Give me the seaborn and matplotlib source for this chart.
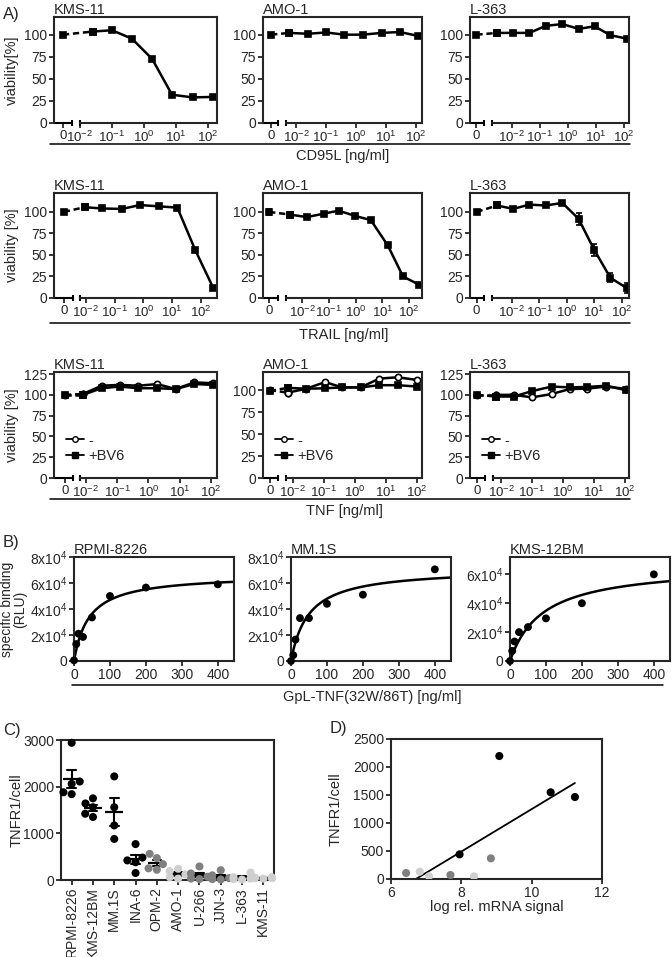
import numpy as np
import pandas as pd
import matplotlib.pyplot as plt
import seaborn as sns
from matplotlib.lines import Line2D

sns.set_style('ticks')
plt.rcParams['font.family'] = ['Liberation Sans', 'DejaVu Sans']
plt.rcParams['mathtext.default'] = 'regular'
plt.rcParams['axes.linewidth'] = 1.5

# --- A) viability data (concentration ng/ml, viability %) ---
cd95l_kms11_conc = [0, 0.025, 0.1, 0.42, 1.8, 7.5, 33, 145]
cd95l_kms11_via = [100, 103.5, 105, 95.5, 72.5, 32, 29, 29.5]
cd95l_amo1_conc = [0, 0.006, 0.025, 0.1, 0.41, 1.7, 7.1, 29, 120]
cd95l_amo1_via = [100, 102, 101, 102.5, 100, 100, 102, 103, 98.5]
cd95l_l363_conc = [0, 0.003, 0.011, 0.042, 0.16, 0.63, 2.4, 8.9, 32, 126]
cd95l_l363_via = [100, 102, 102, 102, 110, 112, 106.5, 109.5, 99.5, 95.5]

trail_kms11_conc = [0, 0.0091, 0.038, 0.18, 0.76, 3.4, 15, 62, 260]
trail_kms11_via = [100, 105.5, 104, 103.5, 108, 106.5, 105, 56, 12]
trail_amo1_conc = [0, 0.0034, 0.015, 0.065, 0.23, 0.93, 3.7, 16, 59, 234]
trail_amo1_via = [100, 97, 94, 98, 101.5, 95.5, 90.5, 61, 25, 15.5]
trail_amo1_err = [3, 3, 2, 2, 2, 2, 2, 2, 2, 2]
trail_l363_conc = [0, 0.0029, 0.011, 0.043, 0.17, 0.69, 2.7, 10, 39, 155]
trail_l363_via = [100, 107.5, 103.5, 108.5, 107.5, 110.5, 92, 56, 23.5, 11.5]
trail_l363_err = [2, 2, 2, 2, 2, 2, 7, 7, 5, 6]

tnf_kms11_conc = [0, 0.0079, 0.032, 0.12, 0.47, 1.9, 7.4, 29, 115]
tnf_kms11_ctrl = [100, 101, 111, 112, 111, 113, 107, 115, 114]
tnf_kms11_bv6 = [100, 100, 108, 110, 108, 108, 107, 113, 112]
tnf_amo1_conc = [0, 0.0069, 0.027, 0.11, 0.4, 1.55, 6.2, 24, 100]
tnf_amo1_ctrl = [100, 97, 101.5, 109, 103, 103, 113, 114.5, 111.5]
tnf_amo1_bv6 = [99, 102.5, 101.5, 102, 103, 103, 105.5, 105.5, 104]
tnf_l363_conc = [0, 0.0069, 0.026, 0.1, 0.43, 1.66, 6.0, 25, 112]
tnf_l363_ctrl = [100, 100, 100, 97, 101, 107, 107.5, 110, 107]
tnf_l363_bv6 = [100, 98, 98, 104.5, 110, 109, 109.5, 111, 105.5]

# --- B) binding data ---
binding_conc = [0, 6.25, 12.5, 25, 50, 100, 200, 400]
rpmi_rlu = [500, 13000, 21000, 18500, 33500, 50000, 56500, 59000]
mm1s_rlu = [0, 4500, 16500, 33000, 33000, 44000, 51000, 70500]
kms12bm_rlu = [0, 7000, 13500, 20000, 23500, 29500, 40000, 60000]

# --- C) TNFR1 per cell ---
cell_lines = ['RPMI-8226', 'KMS-12BM', 'MM.1S', 'INA-6', 'OPM-2',
              'AMO-1', 'U-266', 'JJN-3', 'L-363', 'KMS-11']
tnfr1_values = [
    [2940, 2110, 2060, 1880, 1840],
    [1750, 1640, 1560, 1420, 1350],
    [2220, 1560, 1170, 880],
    [770, 480, 420, 380, 150],
    [560, 470, 340, 250, 220],
    [240, 190, 120, 60, 30],
    [290, 140, 70, 30, 20],
    [210, 100, 40, 20, 10],
    [160, 60, 30, 20, 10],
    [60, 50, 40, 40, 30],
]
expression_group = ['high', 'high', 'high', 'high', 'mid',
                    'low', 'mid', 'mid', 'low', 'low']
group_colors = {'high': 'black', 'mid': '#808080', 'low': '#cfcfcf'}

# --- D) mRNA vs TNFR1 ---
mrna_signal = [9.08, 10.54, 11.23, 7.95, 8.84, 6.82, 6.43, 7.69, 7.08, 8.36]
d_tnfr1 = [2196, 1548, 1464, 440, 369, 131, 107, 71, 48, 48]

W, H = 672, 957
fig = plt.figure(figsize=(W / 100, H / 100), dpi=100)


def box(x0, x1, y0, y1):
    return fig.add_axes([x0 / W, 1 - y1 / H, (x1 - x0) / W, (y1 - y0) / H])


def style(ax, size=10):
    ax.tick_params(direction='out', length=3.5, width=1.3, labelsize=size, pad=1.5)
    for s in ax.spines.values():
        s.set_linewidth(1.5)


dec_labels = ['$10^{-2}$', '$10^{-1}$', '$10^{0}$', '$10^{1}$', '$10^{2}$']


def dose_pos(conc, zero):
    c = np.asarray(conc, float)
    return np.where(c > 0, np.log10(np.where(c > 0, c, 1.0)), zero)


def dose_axis(ax, lay, ymax, yticks):
    left, zero, seg1, seg2, right = lay
    ax.set_xlim(left, right)
    ax.set_ylim(0, ymax)
    ax.set_xticks([zero, -2, -1, 0, 1, 2])
    ax.set_xticklabels(['0'] + dec_labels)
    ax.set_yticks(yticks)
    ax.spines['bottom'].set_bounds(seg2, right)
    ax.plot([left, seg1], [0, 0], color='black', lw=1.5, clip_on=False,
            solid_capstyle='butt')
    ax.plot([seg1, seg2], [0, 0], ls='none', marker='|', ms=5, mew=1.5,
            color='black', clip_on=False)
    style(ax)
    ax.tick_params(axis='x', labelsize=9.5)


def dose_curve(ax, conc, via, zero, marker='s', mfc='black', ms=5, err=None):
    x = dose_pos(conc, zero)
    y = np.asarray(via, float)
    if err is not None:
        ax.errorbar(x, y, yerr=err, fmt='none', ecolor='black', elinewidth=1.2,
                    capsize=2.5, capthick=1.2)
    kw = dict(color='black', marker=marker, markersize=ms, markerfacecolor=mfc,
              markeredgecolor='black', markeredgewidth=1.2, linewidth=1.8)
    sns.lineplot(x=x[1:], y=y[1:], ax=ax, sort=False, **kw)
    sns.lineplot(x=x[:2], y=y[:2], ax=ax, sort=False, linestyle=(0, (2.5, 1.5)), **kw)


cols = [(54, 217), (263, 422), (470, 629)]
titles = ['KMS-11', 'AMO-1', 'L-363']
ticks100 = [0, 25, 50, 75, 100]
ticks125 = [0, 25, 50, 75, 100, 125]

# row 1: CD95L
row1 = [(cd95l_kms11_conc, cd95l_kms11_via, (-2.81, -2.53, -2.24, -2.0, 2.28)),
        (cd95l_amo1_conc, cd95l_amo1_via, (-3.1, -2.83, -2.6, -2.33, 2.2)),
        (cd95l_l363_conc, cd95l_l363_via, (-3.5, -3.27, -3.0, -2.71, 2.18))]
for i, (conc, via, lay) in enumerate(row1):
    ax = box(cols[i][0], cols[i][1], 17, 123)
    dose_curve(ax, conc, via, lay[1])
    dose_axis(ax, lay, 120, ticks100)
    ax.set_title(titles[i], loc='left', fontsize=10.5, pad=2)
    if i == 0:
        ax.set_ylabel('viability[%]', fontsize=10.5)
        ax.yaxis.set_label_coords(-0.215, 0.5)

# row 2: TRAIL
row2 = [(trail_kms11_conc, trail_kms11_via, None, (-3.1, -2.76, -2.45, -2.19, 2.55)),
        (trail_amo1_conc, trail_amo1_via, trail_amo1_err, (-3.46, -3.23, -2.9, -2.6, 2.48)),
        (trail_l363_conc, trail_l363_via, trail_l363_err, (-3.53, -3.29, -3.02, -2.73, 2.27))]
for i, (conc, via, err, lay) in enumerate(row2):
    ax = box(cols[i][0], cols[i][1], 193, 298)
    dose_curve(ax, conc, via, lay[1], err=err)
    dose_axis(ax, lay, 122, ticks100)
    ax.set_title(titles[i], loc='left', fontsize=10.5, pad=2)
    if i == 0:
        ax.set_ylabel('viability [%]', fontsize=10.5)
        ax.yaxis.set_label_coords(-0.215, 0.5)

# row 3: TNF +/- BV6
row3 = [(tnf_kms11_conc, tnf_kms11_ctrl, tnf_kms11_bv6, (-3.02, -2.67, -2.42, -2.19, 2.19), 127.5, ticks125),
        (tnf_amo1_conc, tnf_amo1_ctrl, tnf_amo1_bv6, (-2.96, -2.74, -2.48, -2.22, 2.17), 120.5, ticks100),
        (tnf_l363_conc, tnf_l363_ctrl, tnf_l363_bv6, (-3.0, -2.77, -2.51, -2.26, 2.13), 127.5, ticks125)]
for i, (conc, ctrl, bv6, lay, ymax, yt) in enumerate(row3):
    ax = box(cols[i][0], cols[i][1], 372, 478)
    dose_curve(ax, conc, ctrl, lay[1], marker='o', mfc='white', ms=4.5)
    dose_curve(ax, conc, bv6, lay[1], marker='s')
    dose_axis(ax, lay, ymax, yt)
    ax.set_title(titles[i], loc='left', fontsize=10.5, pad=2)
    handles = [Line2D([], [], color='black', marker='o', markerfacecolor='white',
                      markersize=4, linewidth=1.3, label='-'),
               Line2D([], [], color='black', marker='s', markersize=4,
                      linewidth=1.3, label='+BV6')]
    ax.legend(handles=handles, loc='center left', bbox_to_anchor=(0.04, 0.28),
              frameon=False, handlelength=1.2, handletextpad=0.3,
              labelspacing=0.1, fontsize=10.5, borderaxespad=0)
    if i == 0:
        ax.set_ylabel('viability [%]', fontsize=10.5)
        ax.yaxis.set_label_coords(-0.215, 0.5)

# --- B) binding curves ---
def fit_binding(x, y):
    x = np.asarray(x, float)
    y = np.asarray(y, float)
    best = (np.inf, 0, 1)
    for kd in np.linspace(1, 300, 3000):
        f = x / (kd + x)
        bmax = (f @ y) / (f @ f)
        sse = ((y - bmax * f) ** 2).sum()
        if sse < best[0]:
            best = (sse, bmax, kd)
    return best[1], best[2]


bcols = [(74, 234), (291, 451), (510, 670)]
btitles = ['RPMI-8226', 'MM.1S', 'KMS-12BM']
bdata = [rpmi_rlu, mm1s_rlu, kms12bm_rlu]
bymax = [80000, 80000, 72000]
byticks = [[0, 20000, 40000, 60000, 80000], [0, 20000, 40000, 60000, 80000],
           [0, 20000, 40000, 60000]]
for i in range(3):
    ax = box(bcols[i][0], bcols[i][1], 557, 661)
    bmax, kd = fit_binding(binding_conc, bdata[i])
    grid = np.linspace(0, 445, 300)
    sns.lineplot(x=grid, y=bmax * grid / (kd + grid), ax=ax, color='black', linewidth=1.8)
    sns.scatterplot(x=binding_conc, y=bdata[i], ax=ax, color='black', s=32,
                    edgecolor='none', clip_on=False, zorder=3)
    ax.set_xlim(0, 445)
    ax.set_ylim(0, bymax[i])
    ax.set_xticks([0, 100, 200, 300, 400])
    ax.set_yticks(byticks[i])
    ax.set_yticklabels(['0'] + ['%dx10$^4$' % (v // 10000) for v in byticks[i][1:]])
    style(ax)
    ax.set_title(btitles[i], loc='left', fontsize=10.5, pad=1)
    if i == 0:
        ax.set_ylabel('specific binding\n(RLU)', fontsize=10, linespacing=0.95)
        ax.yaxis.set_label_coords(-0.29, 0.5)

# --- C) TNFR1/cell ---
df_c = pd.DataFrame({
    'line': [cl for cl, v in zip(cell_lines, tnfr1_values) for _ in v],
    'tnfr1': [x for v in tnfr1_values for x in v],
    'group': [g for g, v in zip(expression_group, tnfr1_values) for _ in v],
})
axc = box(61, 274, 740, 880)
sns.swarmplot(data=df_c, x='line', y='tnfr1', hue='group', palette=group_colors,
              order=cell_lines, size=5.8, legend=False, ax=axc, clip_on=False)
sns.pointplot(data=df_c, x='line', y='tnfr1', order=cell_lines, errorbar='se',
              color='black', marker='_', linestyle='none', capsize=0.4,
              markersize=13, markeredgewidth=1.6, err_kws={'linewidth': 1.5}, ax=axc)
axc.set_xlim(-0.5, 9.5)
axc.set_ylim(0, 3000)
axc.set_yticks([0, 1000, 2000, 3000])
axc.set_xlabel('')
axc.set_ylabel('TNFR1/cell', fontsize=10.5)
axc.yaxis.set_label_coords(-0.175, 0.5)
axc.tick_params(axis='x', rotation=90)
style(axc)

# --- D) mRNA vs TNFR1 ---
axd = box(391, 602, 739, 879)
sns.regplot(x=mrna_signal, y=d_tnfr1, scatter=False, ci=None, ax=axd,
            line_kws={'color': 'black', 'linewidth': 1.3})
sns.scatterplot(x=mrna_signal, y=d_tnfr1, hue=expression_group, palette=group_colors,
                s=34, edgecolor='none', legend=False, ax=axd, zorder=3)
axd.set_xlim(6, 12)
axd.set_ylim(0, 2500)
axd.set_xticks([6, 8, 10, 12])
axd.set_yticks([0, 500, 1000, 1500, 2000, 2500])
axd.set_xlabel('log rel. mRNA signal', fontsize=10.5, labelpad=0)
axd.set_ylabel('TNFR1/cell', fontsize=10.5)
axd.yaxis.set_label_coords(-0.227, 0.5)
style(axd)

# --- figure decorations ---
def sep(x0, x1, y, label, xc):
    fig.add_artist(Line2D([x0 / W, x1 / W], [1 - y / H, 1 - y / H], color='black', lw=1.1))
    fig.text(xc / W, 1 - (y + 12) / H, label, ha='center', va='center', fontsize=10.5)


sep(50, 630, 144, 'CD95L [ng/ml]', 343)
sep(50, 630, 323, 'TRAIL [ng/ml]', 344)
sep(50, 630, 499, 'TNF [ng/ml]', 344)
sep(72, 663, 685, 'GpL-TNF(32W/86T) [ng/ml]', 372)

for lab, x, y in [('A)', 3, 14), ('B)', 3, 543), ('C)', 3, 730), ('D)', 330, 728)]:
    fig.text(x / W, 1 - y / H, lab, ha='left', va='center', fontsize=12)

fig.savefig('out.png', dpi=100)
